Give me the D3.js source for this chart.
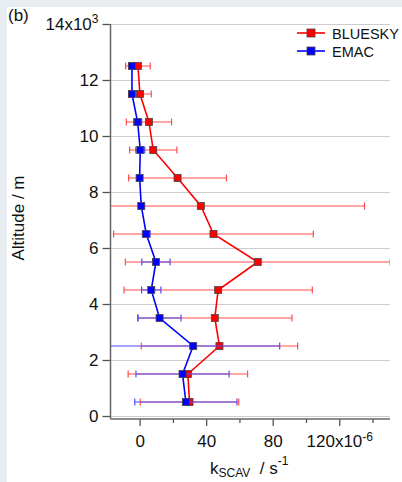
<!DOCTYPE html>
<html>
<head>
<meta charset="utf-8">
<script src="https://cdn.jsdelivr.net/npm/d3@7"></script>
<style>
  body { margin: 0; background: #e8edf1; }
  svg text { font-family: "Liberation Sans", Arial, sans-serif; fill: #111; }
</style>
</head>
<body>
<div id="content"></div>
<script>
// altitude of each layer (m)
const altitude = [500, 1500, 2500, 3500, 4500, 5500, 6500, 7500, 8500, 9500, 10500, 11500, 12500];
// scavenging rate, units of 1e-6 s^-1
const bluesky    = [30.0, 29.0, 48.0, 45.2, 47.2, 71.0, 44.4, 36.8, 22.8, 8.2, 5.6, 0.2, -1.0];
const blueskyErr = [29.6, 35.9, 47.0, 46.4, 56.6, 79.6, 60.0, 98.4, 29.4, 14.2, 13.6, 6.8, 7.4];
const emac       = [27.8, 25.8, 32.2, 12.0, 7.0, 9.8, 4.0, 1.0, 0.0, 0.4, -1.2, -4.6, -4.6];
const emacErr    = [30.7, 28.0, 52.0, 12.9, 5.8, 8.5, 2.3, 1.5, 1.5, 2.7, 2.4, 1.0, 1.5];

const xTicks = [0, 40, 80, 120];
const xMinor = [20, 60, 100, 140];
const yTicks = [0, 2000, 4000, 6000, 8000, 10000, 12000, 14000];

const series = [
  { name: "BLUESKY", x: bluesky, err: blueskyErr, color: "#ff0000", errColor: "#ff4d4d" },
  { name: "EMAC",    x: emac,    err: emacErr,    color: "#0000ff", errColor: "#4d4dff" }
];

const W = 402, H = 482;
const L = 110.5, R = 390, T = 24, B = 416;

const svg = d3.select("#content").append("svg")
  .attr("width", W).attr("height", H);

svg.append("rect").attr("x", 7).attr("y", 7)
  .attr("width", W - 7).attr("height", H - 7).attr("fill", "#fff");

const xScale = d3.scaleLinear().domain([-17.5, 150.5]).range([L, R]);
const yScale = d3.scaleLinear().domain([0, 14000]).range([B, T]);
const axisY = 419;

// grid
svg.append("g").selectAll("line").data(yTicks).enter().append("line")
  .attr("x1", L).attr("x2", R)
  .attr("y1", d => yScale(d) + 0.5).attr("y2", d => yScale(d) + 0.5)
  .attr("stroke", "#9a9a9a").attr("stroke-width", 1).attr("stroke-dasharray", "1,1");

// y axis
const yAxis = svg.append("g").attr("transform", "translate(" + L + ",0)")
  .call(d3.axisLeft(yScale).tickValues(yTicks).tickSize(8).tickPadding(4)
    .tickFormat(d => d / 1000));
yAxis.select(".domain").remove();
yAxis.selectAll(".tick line").attr("stroke", "#555").attr("stroke-width", 1.3);
yAxis.selectAll(".tick text").style("font-size", "17px").attr("fill", "#111");
yAxis.append("line").attr("x1", 0).attr("x2", 0).attr("y1", T).attr("y2", axisY)
  .attr("stroke", "#666").attr("stroke-width", 1.5);
yAxis.selectAll(".tick text").filter(d => d === 14000).text(null)
  .call(t => {
    t.append("tspan").text("14x10");
    t.append("tspan").text("3").style("font-size", "12px").attr("dy", "-0.55em");
  });

// x axis
const xAxis = svg.append("g").attr("transform", "translate(0," + axisY + ")")
  .call(d3.axisBottom(xScale).tickValues(xTicks).tickSize(7).tickPadding(9));
xAxis.select(".domain").remove();
xAxis.append("line").attr("x1", L).attr("x2", R).attr("y1", 0).attr("y2", 0)
  .attr("stroke", "#666").attr("stroke-width", 1.5);
xAxis.selectAll(".tick line").attr("stroke", "#555").attr("stroke-width", 1.3);
xAxis.selectAll(".tick text").style("font-size", "17px").attr("fill", "#111");
xAxis.selectAll(".tick text").filter(d => d === 120).text(null)
  .call(t => {
    t.append("tspan").text("120x10");
    t.append("tspan").text("-6").style("font-size", "12px").attr("dy", "-0.5em");
  });
xAxis.selectAll(".minor").data(xMinor).enter().append("line")
  .attr("x1", d => xScale(d) + 0.5).attr("x2", d => xScale(d) + 0.5)
  .attr("y1", 0).attr("y2", 4).attr("stroke", "#555").attr("stroke-width", 1.3);

// clip
svg.append("clipPath").attr("id", "plotclip").append("rect")
  .attr("x", L).attr("y", T - 10).attr("width", R - L).attr("height", axisY - T + 10);

const plot = svg.append("g").attr("clip-path", "url(#plotclip)");

const line = d3.line().x(d => xScale(d[0])).y(d => yScale(d[1]));

series.forEach(s => {
  const g = plot.append("g");
  const pts = s.x.map((v, i) => ({ v: v, e: s.err[i], a: altitude[i] }));
  // error bars
  const eb = g.selectAll(".eb").data(pts).enter().append("g");
  eb.append("line")
    .attr("x1", d => xScale(d.v - d.e)).attr("x2", d => xScale(d.v + d.e))
    .attr("y1", d => yScale(d.a)).attr("y2", d => yScale(d.a))
    .attr("stroke", s.errColor).attr("stroke-width", 1.2);
  [-1, 1].forEach(sign => {
    eb.append("line")
      .attr("x1", d => xScale(d.v + sign * d.e)).attr("x2", d => xScale(d.v + sign * d.e))
      .attr("y1", d => yScale(d.a) - 3.5).attr("y2", d => yScale(d.a) + 3.5)
      .attr("stroke", s.errColor).attr("stroke-width", 1.2);
  });
  // line
  g.append("path").datum(pts.map(d => [d.v, d.a]))
    .attr("d", line).attr("fill", "none")
    .attr("stroke", s.color).attr("stroke-width", 1.6);
  // markers
  g.selectAll(".m").data(pts).enter().append("rect")
    .attr("x", d => xScale(d.v) - 3.5).attr("y", d => yScale(d.a) - 3.5)
    .attr("width", 7).attr("height", 7)
    .attr("fill", s.color).attr("stroke", "#444").attr("stroke-width", 0.8);
});

// legend
const legend = svg.append("g");
series.forEach((s, i) => {
  const y = 33 + i * 18;
  legend.append("line").attr("x1", 297).attr("x2", 325).attr("y1", y).attr("y2", y)
    .attr("stroke", s.color).attr("stroke-width", 1.6);
  legend.append("rect").attr("x", 311 - 4).attr("y", y - 4).attr("width", 8).attr("height", 8)
    .attr("fill", s.color).attr("stroke", "#444").attr("stroke-width", 0.8);
  legend.append("text").attr("x", 332).attr("y", y + 5.5)
    .style("font-size", "14.5px").text(s.name);
});

// titles
svg.append("text").attr("x", 8).attr("y", 21).style("font-size", "17px").text("(b)");

svg.append("text").attr("transform", "translate(24,218) rotate(-90)")
  .attr("text-anchor", "middle").style("font-size", "17px").text("Altitude / m");

const xt = svg.append("text").attr("x", 210).attr("y", 474).style("font-size", "17px");
xt.append("tspan").text("k");
xt.append("tspan").text("SCAV").style("font-size", "12px").attr("dy", 3);
xt.append("tspan").text("\u00a0\u00a0/ s").attr("dy", -3);
xt.append("tspan").text("-1").style("font-size", "12px").attr("dy", -9);
</script>
</body>
</html>
